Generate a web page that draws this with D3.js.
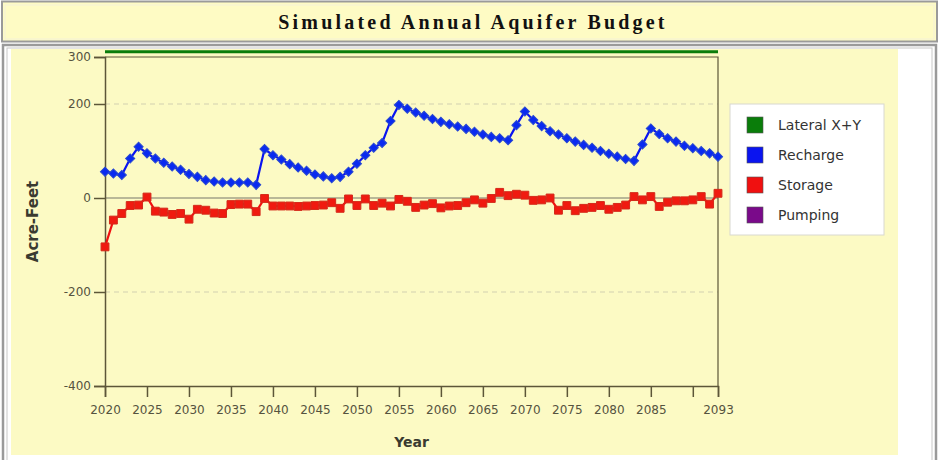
<!DOCTYPE html>
<html>
<head>
<meta charset="utf-8">
<script src="https://cdn.jsdelivr.net/npm/d3@7"></script>
<style>
  body { margin: 0; background: #fff; }
  svg { display: block; }
</style>
</head>
<body>
<div id="chart"></div>
<script>
// annual budget, acre-feet, one value per year 2020..2093
const years = d3.range(2020, 2094)

const recharge = [
  56, 52, 49, 84, 109, 95, 84, 75, 67, 60,
  51, 45, 38, 35, 33, 33, 33, 33, 28, 104,
  91, 82, 72, 65, 58, 50, 46, 42, 45, 56,
  73, 91, 107, 117, 164, 198, 190, 182, 175, 168,
  162, 157, 152, 147, 141, 135, 130, 127, 123, 155,
  184, 166, 153, 142, 135, 127, 120, 113, 107, 100,
  94, 88, 83, 79, 114, 148, 136, 127, 120, 111,
  106, 100, 95, 88
]

const storage = [
  -104, -47, -33, -16, -15, 2, -28, -30, -35, -33,
  -45, -24, -26, -32, -33, -14, -13, -13, -29, -1,
  -17, -17, -17, -18, -17, -16, -15, -10, -22, -2,
  -16, -2, -16, -11, -17, -3, -7, -20, -15, -12,
  -21, -17, -16, -10, -4, -11, -1, 12, 5, 8,
  6, -5, -4, 0, -26, -16, -27, -22, -20, -16,
  -24, -20, -15, 3, -4, 3, -18, -9, -6, -6,
  -4, 3, -13, 10
]

// lateral flow sits just above the top of the axis range
const lateral = [
  311, 311, 311, 311, 311, 311, 311, 311, 311, 311,
  311, 311, 311, 311, 311, 311, 311, 311, 311, 311,
  311, 311, 311, 311, 311, 311, 311, 311, 311, 311,
  311, 311, 311, 311, 311, 311, 311, 311, 311, 311,
  311, 311, 311, 311, 311, 311, 311, 311, 311, 311,
  311, 311, 311, 311, 311, 311, 311, 311, 311, 311,
  311, 311, 311, 311, 311, 311, 311, 311, 311, 311,
  311, 311, 311, 311
]

const pumping = []

const legendNames = ['Lateral X+Y', 'Recharge', 'Storage', 'Pumping']
const legendColors = ['#0a7d0a', '#0a14f0', '#f01010', '#7a0a8a']

const xTicks = [2020, 2025, 2030, 2035, 2040, 2045, 2050, 2055, 2060, 2065, 2070, 2075, 2080, 2085, 2090, 2093]
const xTickLabels = ['2020', '2025', '2030', '2035', '2040', '2045', '2050', '2055', '2060', '2065', '2070', '2075', '2080', '2085', '', '2093']
const yTicks = [300, 200, 0, -200, -400]
const yTickLabels = ['300', '200', '0', '-200', '-400']
const yGrid = [200, -200]

const W = 940, H = 460
const plot = { left: 105, right: 718, top: 57, bottom: 386 }

const svg = d3.select('#chart').append('svg')
  .attr('width', W)
  .attr('height', H)

// page frames
svg.append('rect')
  .attr('x', 2).attr('y', 1.5).attr('width', 935).attr('height', 40)
  .attr('fill', '#fefbc4').attr('stroke', '#9a9a9a').attr('stroke-width', 2)
svg.append('rect')
  .attr('x', 5).attr('y', 5).attr('width', 929).attr('height', 34)
  .attr('fill', 'none').attr('stroke', '#f4f1d8').attr('stroke-width', 1)

svg.append('text')
  .attr('x', W / 2 + 3)
  .attr('y', 29)
  .attr('text-anchor', 'middle')
  .attr('font-family', '"Liberation Serif", "Times New Roman", serif')
  .attr('font-weight', 'bold')
  .attr('font-size', 20)
  .attr('letter-spacing', 3.2)
  .attr('fill', '#111')
  .text('Simulated Annual Aquifer Budget')

svg.append('rect')
  .attr('x', 3).attr('y', 45).attr('width', 933).attr('height', 420)
  .attr('fill', '#fff').attr('stroke', '#9a9a9a').attr('stroke-width', 2.5)
svg.append('rect')
  .attr('x', 7).attr('y', 48).attr('width', 925).attr('height', 420)
  .attr('fill', 'none').attr('stroke', '#c8c8c8').attr('stroke-width', 1)

svg.append('rect')
  .attr('x', 11).attr('y', 49).attr('width', 887).attr('height', 406)
  .attr('fill', '#fcfac4')

const x = d3.scaleLinear()
  .domain([2020, 2093])
  .range([plot.left, plot.right])

const y = d3.scaleLinear()
  .domain([-400, 300])
  .range([plot.bottom, plot.top])

const axisColor = '#5c5638'

// grid
svg.append('g')
  .selectAll('line')
  .data(yGrid)
  .enter()
  .append('line')
  .attr('x1', plot.left).attr('x2', plot.right)
  .attr('y1', d => y(d)).attr('y2', d => y(d))
  .attr('stroke', '#d2d0b0')
  .attr('stroke-dasharray', '5,4')

// zero line
svg.append('line')
  .attr('x1', plot.left).attr('x2', plot.right)
  .attr('y1', y(0)).attr('y2', y(0))
  .attr('stroke', '#77766a').attr('stroke-width', 1.2)

// plot frame top / right
svg.append('path')
  .attr('d', `M${plot.left},${plot.top}H${plot.right}V${plot.bottom}`)
  .attr('fill', 'none')
  .attr('stroke', axisColor)
  .attr('stroke-width', 1.2)

const yAxis = svg.append('g')
  .attr('transform', `translate(${plot.left},0)`)
  .call(d3.axisLeft(y).tickValues(yTicks).tickSize(11).tickPadding(3)
    .tickFormat((d, i) => yTickLabels[i]))
yAxis.selectAll('.domain, line').attr('stroke', axisColor).attr('stroke-width', 1.5)
yAxis.selectAll('text')
  .attr('font-family', '"DejaVu Sans", sans-serif')
  .attr('font-size', 12)
  .attr('fill', '#55533f')

const xAxis = svg.append('g')
  .attr('transform', `translate(0,${plot.bottom})`)
  .call(d3.axisBottom(x).tickValues(xTicks).tickSize(11).tickPadding(8)
    .tickFormat((d, i) => xTickLabels[i]))
xAxis.selectAll('.domain, line').attr('stroke', axisColor).attr('stroke-width', 1.5)
xAxis.selectAll('text')
  .attr('font-family', '"DejaVu Sans", sans-serif')
  .attr('font-size', 12)
  .attr('fill', '#55533f')

svg.append('text')
  .attr('x', (plot.left + plot.right) / 2)
  .attr('y', 447)
  .attr('text-anchor', 'middle')
  .attr('font-family', '"DejaVu Sans", sans-serif')
  .attr('font-weight', 'bold')
  .attr('font-size', 14)
  .attr('fill', '#3a3a30')
  .text('Year')

svg.append('text')
  .attr('transform', `translate(38, ${(plot.top + plot.bottom) / 2}) rotate(-90)`)
  .attr('text-anchor', 'middle')
  .attr('font-family', '"DejaVu Sans", sans-serif')
  .attr('font-weight', 'bold')
  .attr('font-size', 15)
  .attr('fill', '#3a3a30')
  .text('Acre-Feet')

// series
const line = d3.line()
  .x((d, i) => x(years[i]))
  .y(d => y(d))

svg.append('path')
  .datum(lateral)
  .attr('d', line)
  .attr('fill', 'none')
  .attr('stroke', legendColors[0])
  .attr('stroke-width', 3)

svg.append('path')
  .datum(pumping)
  .attr('d', line)
  .attr('fill', 'none')
  .attr('stroke', legendColors[3])
  .attr('stroke-width', 2)

svg.append('path')
  .datum(storage)
  .attr('d', line)
  .attr('fill', 'none')
  .attr('stroke', legendColors[2])
  .attr('stroke-width', 2.2)

svg.append('path')
  .datum(recharge)
  .attr('d', line)
  .attr('fill', 'none')
  .attr('stroke', legendColors[1])
  .attr('stroke-width', 2.2)

const square = d3.symbol().type(d3.symbolSquare).size(62)
const diamond = d3.symbol().type(d3.symbolSquare).size(42)

svg.append('g')
  .selectAll('path')
  .data(storage)
  .enter()
  .append('path')
  .attr('d', square)
  .attr('transform', (d, i) => `translate(${x(years[i])},${y(d)})`)
  .attr('fill', '#f01a10')
  .attr('stroke', '#d42a1a')
  .attr('stroke-width', 1)

svg.append('g')
  .selectAll('path')
  .data(recharge)
  .enter()
  .append('path')
  .attr('d', diamond)
  .attr('transform', (d, i) => `translate(${x(years[i])},${y(d)}) rotate(45)`)
  .attr('fill', '#0a2af0')
  .attr('stroke', '#2a4ad0')
  .attr('stroke-width', 1)

// legend
const legend = svg.append('g')
  .attr('transform', 'translate(730,104)')
legend.append('rect')
  .attr('width', 154).attr('height', 131)
  .attr('fill', '#fff')
  .attr('stroke', '#d8d8d0')

const items = legend.selectAll('g.item')
  .data(legendNames)
  .enter()
  .append('g')
  .attr('class', 'item')
  .attr('transform', (d, i) => `translate(17,${13 + i * 30})`)
items.append('rect')
  .attr('width', 16).attr('height', 16)
  .attr('fill', (d, i) => legendColors[i])
  .attr('stroke', '#555')
  .attr('stroke-width', 0.6)
items.append('text')
  .attr('x', 31).attr('y', 13)
  .attr('font-family', '"DejaVu Sans", sans-serif')
  .attr('font-size', 14)
  .attr('fill', '#333')
  .text(d => d)
</script>
</body>
</html>
